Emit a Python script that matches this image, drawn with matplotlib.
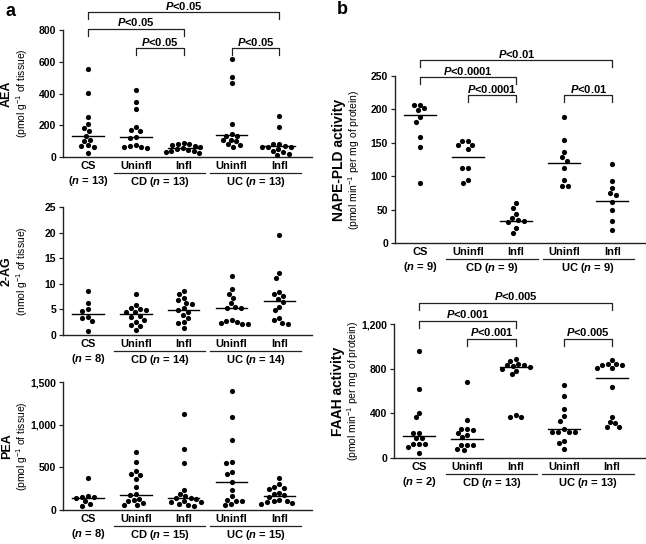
import numpy as np
import matplotlib

matplotlib.use("Agg")
import matplotlib.pyplot as plt
from matplotlib.ticker import FuncFormatter

plt.rcParams["font.family"] = "Liberation Sans"
plt.rcParams["font.weight"] = "bold"
plt.rcParams["mathtext.fontset"] = "custom"
plt.rcParams["mathtext.default"] = "regular"
plt.rcParams["mathtext.it"] = "Liberation Sans:italic:bold"
plt.rcParams["mathtext.rm"] = "Liberation Sans:bold"

GROUPS = ["CS", "Uninfl", "Infl", "Uninfl", "Infl"]

# panel a -- AEA
aea_cs = [555, 405, 250, 210, 185, 165, 135, 110, 100, 75, 70, 60, 25]
aea_cd_un = [425, 345, 305, 190, 170, 165, 125, 120, 75, 70, 65, 60, 55]
aea_cd_in = [90, 85, 80, 75, 70, 60, 55, 50, 45, 40, 35, 30, 25]
aea_uc_un = [615, 505, 465, 205, 145, 135, 135, 110, 105, 100, 80, 75, 65]
aea_uc_in = [260, 190, 85, 80, 70, 65, 65, 60, 50, 40, 30, 20, 15]
aea_lines = [134, 125, 54, 136, 67]
aea_n = [13, 13, 13]

# panel a -- 2-AG
ag_cs = [8.6, 6.2, 5.0, 4.7, 3.5, 3.3, 2.8, 0.8]
ag_cd_un = [8.0, 5.8, 5.2, 5.0, 4.8, 4.5, 4.4, 3.8, 3.5, 3.0, 2.5, 2.0, 1.8, 1.0]
ag_cd_in = [8.6, 8.0, 7.2, 6.8, 6.2, 6.0, 5.2, 4.8, 4.5, 4.0, 3.3, 2.5, 2.3, 1.3]
ag_uc_un = [11.6, 9.0, 8.0, 7.2, 6.2, 5.5, 5.3, 5.3, 3.0, 2.8, 2.5, 2.3, 2.2, 2.2]
ag_uc_in = [19.6, 12.1, 11.2, 8.4, 8.0, 7.6, 7.0, 6.4, 5.5, 4.8, 3.4, 3.0, 2.4, 2.2]
ag_lines = [4.1, 4.1, 4.9, 5.3, 6.6]
ag_n = [8, 14, 14]

# panel a -- PEA
pea_cs = [375, 160, 155, 150, 140, 100, 70, 45]
pea_cd_un = [680, 565, 460, 425, 410, 360, 270, 185, 180, 130, 115, 100, 80, 60, 55]
pea_cd_in = [1130, 720, 545, 240, 190, 165, 145, 140, 130, 100, 95, 90, 70, 60, 50]
pea_uc_un = [1400, 1095, 820, 565, 550, 450, 420, 330, 240, 160, 120, 110, 110, 70, 60]
pea_uc_in = [380, 300, 270, 260, 250, 205, 190, 170, 150, 120, 110, 100, 90, 80, 70]
pea_lines = [144, 180, 140, 331, 168]
pea_n = [8, 15, 15]

# panel b -- NAPE-PLD
nape_cs = [207, 206, 202, 199, 188, 181, 159, 144, 90]
nape_cd_un = [153, 153, 147, 147, 141, 113, 113, 94, 90]
nape_cd_in = [60, 53, 43, 37, 34, 33, 31, 22, 15]
nape_uc_un = [188, 154, 136, 128, 123, 113, 94, 86, 86]
nape_uc_in = [118, 93, 83, 75, 72, 61, 49, 33, 19]
nape_lines = [192, 129, 33, 120, 63]
nape_n = [9, 9, 9]

# panel b -- FAAH
faah_cs = [958, 615, 406, 364, 227, 221, 182, 176, 125, 125, 125, 96, 42]
faah_cd_un = [678, 340, 263, 263, 251, 221, 206, 185, 116, 116, 116, 80, 72]
faah_cd_in = [885, 870, 840, 835, 830, 820, 815, 800, 780, 750, 385, 365, 365]
faah_uc_un = [654, 555, 436, 376, 334, 257, 236, 236, 236, 236, 155, 131, 81]
faah_uc_in = [878, 845, 840, 835, 830, 810, 805, 635, 370, 325, 315, 280, 275]
faah_lines = [197, 173, 812, 260, 713]
faah_n = [2, 13, 13]

nape_stats = [(0, 4, "0.01"), (0, 2, "0.0001"), (1, 2, "0.0001"), (3, 4, "0.01")]
faah_stats = [(0, 4, "0.005"), (0, 2, "0.001"), (1, 2, "0.001"), (3, 4, "0.005")]
aea_stats = [(0, 4, "0.05"), (0, 2, "0.05"), (1, 2, "0.05"), (3, 4, "0.05")]

W, H = 646, 544
XLIM = (-0.52, 4.68)
INK = "#222222"
FS = 8


def px_height(ax):
    return ax.get_position().height * H


def swarm_offsets(values, ax, ymax, diam_px=5.6):
    """plain beeswarm: each dot goes to the nearest free x, in pixel space"""
    h = px_height(ax)
    w = ax.get_position().width * W
    ypx = np.asarray(values, dtype=float) * h / ymax
    unit_px = w / (XLIM[1] - XLIM[0])
    order = np.argsort(-ypx)
    placed = []
    offs = np.zeros(len(values))
    cands = [0.0]
    for k in range(1, 80):
        cands += [-0.5 * k, 0.5 * k]
    for i in order:
        for c in cands:
            if all((c - px) ** 2 + (ypx[i] - py) ** 2 >= diam_px ** 2 for px, py in placed):
                placed.append((c, ypx[i]))
                offs[i] = c / unit_px
                break
    return offs


def group_labels(ax, n):
    h = px_height(ax)
    tr = ax.get_xaxis_transform()
    for i, g in enumerate(GROUPS):
        ax.text(i, -9 / h, g, transform=tr, ha="center", va="center", fontsize=FS)
    ax.text(0, -24 / h, rf"($\mathit{{n}}$ = {n[0]})", transform=tr,
            ha="center", va="center", fontsize=FS)
    for c, name, nn in [(1.5, "CD", n[1]), (3.5, "UC", n[2])]:
        ax.plot([c - 0.95, c + 0.95], [-16 / h] * 2, transform=tr,
                clip_on=False, color=INK, lw=0.9)
        ax.text(c, -25 / h, rf"{name} ($\mathit{{n}}$ = {nn})", transform=tr,
                ha="center", va="center", fontsize=FS)


def brackets(ax, stats, lifts):
    h = px_height(ax)
    tr = ax.get_xaxis_transform()
    for (x0, x1, p), lift in zip(stats, lifts):
        yl = 1 + lift / h
        yt = yl - 6.5 / h
        ax.plot([x0, x0, x1, x1], [yt, yl, yl, yt], transform=tr,
                clip_on=False, color=INK, lw=0.9)
        ax.text((x0 + x1) / 2, yl + 6.5 / h, rf"$\mathit{{P}}$<{p}", transform=tr,
                ha="center", va="center", fontsize=FS)


def scatter_panel(ax, series, lines, ymax, ystep, ylabel, unit, n, lab_fs, unit_fs):
    ax.set_xlim(*XLIM)
    ax.set_ylim(0, ymax)
    for i, vals in enumerate(series):
        offs = swarm_offsets(vals, ax, ymax)
        ax.scatter(i + offs, vals, s=14, color="black", linewidths=0,
                   clip_on=False, zorder=3)
        ax.plot([i - 0.33, i + 0.33], [lines[i]] * 2, color="black", lw=1.0, zorder=2)
    ax.set_yticks(np.arange(0, ymax + ystep / 2, ystep))
    ax.yaxis.set_major_formatter(FuncFormatter(lambda v, _: f"{v:,.0f}"))
    ax.tick_params(axis="y", labelsize=7.5, length=3, width=0.9, color=INK, pad=2)
    ax.set_xticks([])
    for s in ["top", "right"]:
        ax.spines[s].set_visible(False)
    for s in ["left", "bottom"]:
        ax.spines[s].set_color(INK)
        ax.spines[s].set_linewidth(1.0)
    ax.annotate(ylabel, xy=(0, 0.5), xycoords="axes fraction", xytext=(-40.5, 0),
                textcoords="offset points", rotation=90, ha="center", va="center",
                fontsize=lab_fs)
    ax.annotate(unit, xy=(0, 0.5), xycoords="axes fraction", xytext=(-29.5, 0),
                textcoords="offset points", rotation=90, ha="center", va="center",
                fontsize=unit_fs, fontweight="normal")
    group_labels(ax, n)


def main() -> None:
    fig = plt.figure(figsize=(W / 100, H / 100), dpi=100)
    ax_aea = fig.add_axes([63 / W, 1 - 157 / H, 249 / W, 127 / H])
    ax_ag = fig.add_axes([63 / W, 1 - 335 / H, 249 / W, 128 / H])
    ax_pea = fig.add_axes([63 / W, 1 - 510 / H, 249 / W, 128 / H])
    ax_nape = fig.add_axes([395 / W, 1 - 243 / H, 250 / W, 167 / H])
    ax_faah = fig.add_axes([394 / W, 1 - 458 / H, 251 / W, 134 / H])

    tissue = r"(pmol g$^{-1}$ of tissue)"
    activity = r"(pmol min$^{-1}$ per mg of protein)"

    scatter_panel(ax_aea, [aea_cs, aea_cd_un, aea_cd_in, aea_uc_un, aea_uc_in],
                  aea_lines, 800, 200, "AEA", tissue, aea_n, 9, 7.5)
    scatter_panel(ax_ag, [ag_cs, ag_cd_un, ag_cd_in, ag_uc_un, ag_uc_in],
                  ag_lines, 25, 5, "2-AG", r"(nmol g$^{-1}$ of tissue)", ag_n, 9, 7.5)
    scatter_panel(ax_pea, [pea_cs, pea_cd_un, pea_cd_in, pea_uc_un, pea_uc_in],
                  pea_lines, 1500, 500, "PEA", tissue, pea_n, 9, 7.5)
    scatter_panel(ax_nape, [nape_cs, nape_cd_un, nape_cd_in, nape_uc_un, nape_uc_in],
                  nape_lines, 250, 50, "NAPE-PLD activity", activity, nape_n, 10, 7.5)
    scatter_panel(ax_faah, [faah_cs, faah_cd_un, faah_cd_in, faah_uc_un, faah_uc_in],
                  faah_lines, 1200, 400, "FAAH activity", activity, faah_n, 10, 7.5)

    brackets(ax_aea, aea_stats, [18, 1, -18, -18])
    brackets(ax_nape, nape_stats, [16, -1, -19, -19])
    brackets(ax_faah, faah_stats, [21, 3, -15, -15])

    fig.text(5 / W, 1 - 11 / H, "a", fontsize=13, ha="left", va="center")
    fig.text(337 / W, 1 - 9 / H, "b", fontsize=13, ha="left", va="center")

    fig.savefig("out.png", dpi=100)


if __name__ == "__main__":
    main()
